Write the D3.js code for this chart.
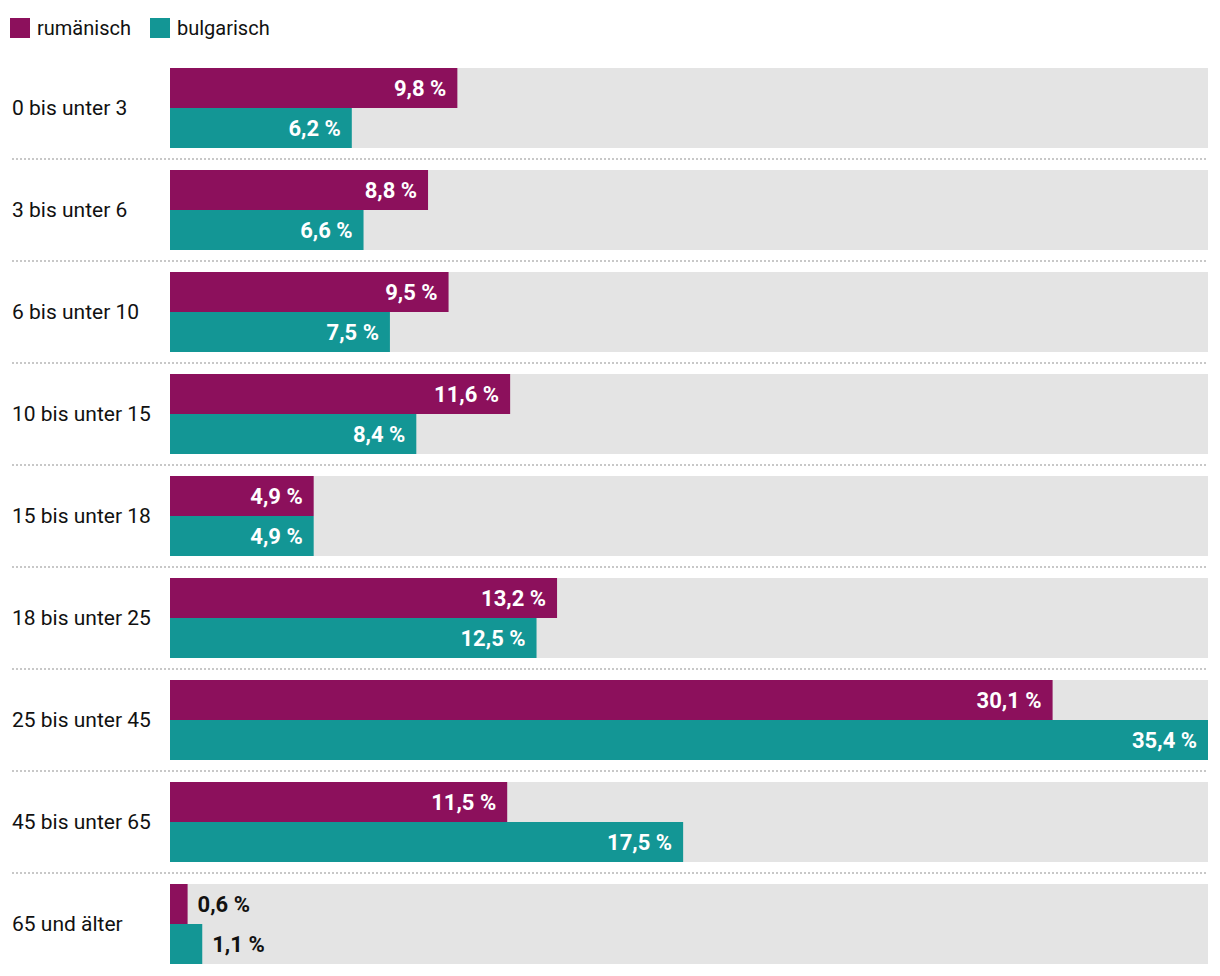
<!DOCTYPE html>
<html><head><meta charset="utf-8">
<script src="https://cdn.jsdelivr.net/npm/d3@7"></script>
<style>body{margin:0;background:#fff;}svg{display:block;}</style>
</head><body>
<svg id="c" width="1220" height="976"></svg>
<script>
const categories = ["0 bis unter 3","3 bis unter 6","6 bis unter 10","10 bis unter 15","15 bis unter 18","18 bis unter 25","25 bis unter 45","45 bis unter 65","65 und älter"];
const seriesNames = ["rumänisch","bulgarisch"];
const rumaenisch = [9.8, 8.8, 9.5, 11.6, 4.9, 13.2, 30.1, 11.5, 0.6];
const bulgarisch = [6.2, 6.6, 7.5, 8.4, 4.9, 12.5, 35.4, 17.5, 1.1];
const colors = ["#8c105c", "#139695"];
const series = [rumaenisch, bulgarisch];

const font = "Roboto, 'Open Sans', sans-serif";
const svg = d3.select("#c");
const x = d3.scaleLinear().domain([0, d3.max(bulgarisch.concat(rumaenisch))]).range([170, 1208]);
const y0 = d3.scaleBand().domain(categories).range([68, 68 + 102 * categories.length]).paddingInner(0).paddingOuter(0);
const y1 = d3.scaleBand().domain(seriesNames).range([0, 80]);

// legend
const leg = svg.append("g");
const legX = [10, 150];
seriesNames.forEach((s, i) => {
  leg.append("rect").attr("x", legX[i]).attr("y", 18).attr("width", 20).attr("height", 20).attr("fill", colors[i]);
  leg.append("text").attr("x", legX[i] + 27).attr("y", 28).attr("dy", "0.35em")
    .attr("font-family", font).attr("font-size", 20).attr("fill", "#111").text(s);
});

const g = svg.selectAll("g.row").data(categories).join("g").attr("class", "row")
  .attr("transform", d => `translate(0,${y0(d)})`);

g.append("rect").attr("x", x(0)).attr("y", 0).attr("width", x.range()[1] - x(0)).attr("height", 80).attr("fill", "#e4e4e4");

g.append("text").attr("x", 12).attr("y", 40).attr("dy", "0.35em")
  .attr("font-family", font).attr("font-size", 21).attr("fill", "#111").text(d => d);

g.filter((d, i) => i < categories.length - 1).append("line")
  .attr("x1", 12).attr("x2", 1208).attr("y1", 91).attr("y2", 91)
  .attr("stroke", "#c8c8c8").attr("stroke-width", 2).attr("stroke-dasharray", "2,2");

seriesNames.forEach((s, si) => {
  g.append("rect").attr("x", x(0)).attr("y", y1(s))
    .attr("width", (d, i) => x(series[si][i]) - x(0)).attr("height", y1.bandwidth()).attr("fill", colors[si]);
  g.append("text")
    .attr("y", y1(s) + y1.bandwidth() / 2).attr("dy", "0.35em")
    .attr("font-family", font).attr("font-size", 22).attr("font-weight", "bold")
    .each(function (d, i) {
      const v = series[si][i];
      const inside = x(v) - x(0) > 80;
      d3.select(this)
        .attr("x", inside ? x(v) - 11 : x(v) + 10)
        .attr("text-anchor", inside ? "end" : "start")
        .attr("fill", inside ? "#fff" : "#111")
        .text(v.toFixed(1).replace(".", ",") + " %");
    });
});
</script>
</body></html>
